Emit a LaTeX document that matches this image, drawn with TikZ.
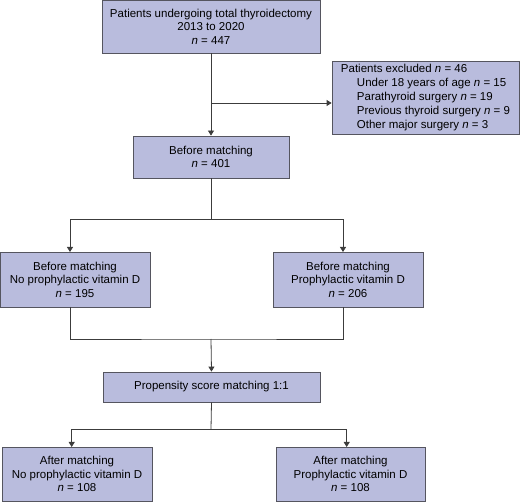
\documentclass[tikz,border=0pt]{standalone}
\usepackage{fontspec}
\setmainfont{Liberation Sans}
\usetikzlibrary{arrows.meta}
\definecolor{boxfill}{RGB}{185,188,221}
\definecolor{boxline}{RGB}{85,85,95}
\definecolor{connline}{RGB}{60,60,60}
\begin{document}
\begin{tikzpicture}[x=1pt,y=-1pt,
  box/.style={draw=boxline, fill=boxfill, line width=0.8pt, align=center,
    font=\fontsize{11.5}{13.5}\selectfont, inner sep=0pt},
  conn/.style={draw=connline, line width=0.8pt},
  arr/.style={conn, -{Triangle[length=5pt,width=6pt]}}]
\useasboundingbox (0,0) rectangle (520,502);

\node[box, minimum width=218pt, minimum height=53pt] (top) at (211,26.5)
  {Patients undergoing total thyroidectomy\\2013 to 2020\\\textit{n} = 447};
\node[box, minimum width=187pt, minimum height=73pt, align=left,
  font=\fontsize{11.5}{14}\selectfont] (excl) at (425.5,97.5)
  {Patients excluded \textit{n} = 46\\
   \hspace*{16pt}Under 18 years of age \textit{n} = 15\\
   \hspace*{16pt}Parathyroid surgery \textit{n} = 19\\
   \hspace*{16pt}Previous thyroid surgery \textit{n} = 9\\
   \hspace*{16pt}Other major surgery \textit{n} = 3};
\node[box, minimum width=156pt, minimum height=42pt] (before) at (211,157)
  {Before matching\\\textit{n} = 401};
\node[box, minimum width=150pt, minimum height=55pt] (left1) at (75,279.5)
  {Before matching\\No prophylactic vitamin D\\\textit{n} = 195};
\node[box, minimum width=150pt, minimum height=55pt] (right1) at (348,279.5)
  {Before matching\\Prophylactic vitamin D\\\textit{n} = 206};
\node[box, minimum width=217pt, minimum height=30pt] (prop) at (211.5,387)
  {Propensity score matching 1:1};
\node[box, minimum width=150pt, minimum height=54pt] (left2) at (77,474)
  {After matching\\No prophylactic vitamin D\\\textit{n} = 108};
\node[box, minimum width=149pt, minimum height=54pt] (right2) at (350.5,474)
  {After matching\\Prophylactic vitamin D\\\textit{n} = 108};

% junctions
\coordinate (j1) at (211,103);
\coordinate (s1) at (211,219);
\coordinate (a1) at (70,252);
\coordinate (a2) at (343,252);
\coordinate (b1) at (70,307);
\coordinate (b2) at (343,307);
\coordinate (m) at (211,339);
\coordinate (s2) at (211,429);
\coordinate (c1) at (71.7,447);
\coordinate (c2) at (346.7,447);

\draw[arr] (top.south) -- (before.north);
\draw[arr] (j1) -- (excl.west |- j1);
\draw[conn] (before.south) -- (s1);
\draw[arr] (s1) -| (a1);
\draw[arr] (s1) -| (a2);
\draw[conn] (b1) |- (m) -| (b2);
\draw[arr] (m) -- (prop.north);
\draw[conn] (prop.south) -- (s2);
\draw[arr] (s2) -| (c1);
\draw[arr] (s2) -| (c2);
\end{tikzpicture}
\end{document}
